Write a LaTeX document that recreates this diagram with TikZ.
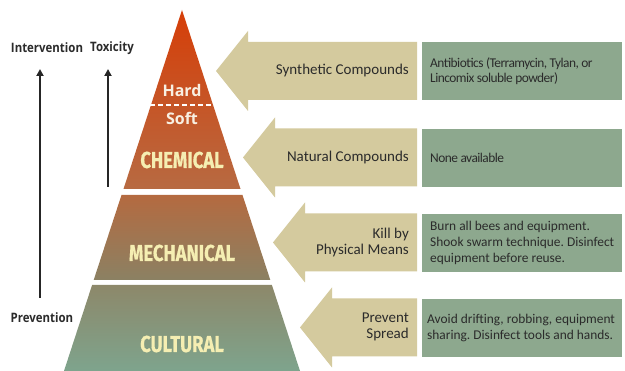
\documentclass[tikz,border=0pt]{standalone}
\usepackage{fontspec}
\setmainfont{Carlito}
\newfontfamily\labfont{Open Sans}
\newfontfamily\pyrfont{Fira Sans}
\usetikzlibrary{arrows.meta}
\definecolor{tanc}{HTML}{D4CA9E}
\definecolor{boxg}{HTML}{8DA88E}
\definecolor{txtd}{HTML}{2B2B2B}
\definecolor{cream}{HTML}{F5EEB2}
\definecolor{softw}{HTML}{F8F0E2}
\definecolor{arrk}{HTML}{262626}
\tikzset{
  gbox/.style={fill=boxg, draw=none, minimum width=200pt, minimum height=58pt,
    inner sep=0pt, anchor=north west},
  btext/.style={anchor=west, align=left, text=txtd, inner sep=0pt,
    font=\frenchspacing\fontsize{13.4}{15.8}\selectfont},
  tight/.style={font=\frenchspacing\fontsize{13.4}{15.4}\selectfont\addfontfeature{LetterSpace=-4}},
  atext/.style={anchor=east, align=right, text=txtd, inner sep=0pt,
    font=\fontsize{15}{16}\selectfont},
  sidelab/.style={text=txtd, inner sep=0pt, font=\labfont\bfseries\fontsize{13}{14}\selectfont},
  pyrlab/.style={text=cream, inner sep=0pt, font=\pyrfont\bfseries\fontsize{23}{24}\selectfont\addfontfeature{FakeBold=0.6}},
  hslab/.style={text=softw, inner sep=0pt, font=\labfont\bfseries\fontsize{16}{17}\selectfont},
  uparrow/.style={draw=arrk, line width=2.6pt, -{Triangle[length=7pt,width=7pt]}}
}
\begin{document}
\begin{tikzpicture}[x=1pt,y=-1pt]
\useasboundingbox (0,0) rectangle (625,371);
\fill[white] (0,0) rectangle (625,371);

% pyramid sections
\shade[top color={rgb,255:red,214;green,62;blue,8}, bottom color={rgb,255:red,183;green,106;blue,66}]
  (182,10) -- (240.5,189) -- (123.5,189) -- cycle;
\shade[top color={rgb,255:red,180;green,106;blue,64}, bottom color={rgb,255:red,139;green,129;blue,99}]
  (121.5,195) -- (242.5,195) -- (270.3,280) -- (93.7,280) -- cycle;
\shade[top color={rgb,255:red,141;green,136;blue,106}, bottom color={rgb,255:red,126;green,164;blue,141}]
  (92.1,285) -- (271.9,285) -- (300,371) -- (64,371) -- cycle;
\draw[white, line width=2.6pt, dash pattern=on 5pt off 3pt] (150,105) -- (214,105);

% pyramid labels
\node[hslab] (hard) at (182,91) {Hard};
\node[hslab] (soft) at (182,118) {Soft};
\node[pyrlab] (chem) at (182,160) {\scalebox{0.8}[1]{CHEMICAL}};
\node[pyrlab] (mech) at (182,253) {\scalebox{0.8}[1]{MECHANICAL}};
\node[pyrlab] (cult) at (182,344) {\scalebox{0.8}[1]{CULTURAL}};

% side labels and arrows
\node[sidelab] (interv) at (47,48) {\scalebox{0.88}[1]{Intervention}};
\node[sidelab] (toxic) at (112,48) {\scalebox{0.88}[1]{Toxicity}};
\node[sidelab] (prev) at (42,318) {\scalebox{0.88}[1]{Prevention}};
\coordinate (i0) at (40,298);
\coordinate (i1) at (40,69);
\coordinate (t0) at (108,187);
\coordinate (t1) at (108,69);
\draw[uparrow] (i0) -- (i1);
\draw[uparrow] (t0) -- (t1);

% tan arrows
\foreach \c/\tip in {71/216, 157.5/243, 242.5/273, 327.5/300}{
  \pgfmathsetmacro{\base}{\tip+32}
  \fill[tanc] (417,\c-29) -- (\base,\c-29) -- (\base,\c-40) -- (\tip,\c)
     -- (\base,\c+40) -- (\base,\c+29) -- (417,\c+29) -- cycle;
}

% arrow texts
\node[atext] (a1) at (409,71) {Synthetic Compounds};
\node[atext] (a2) at (409,158) {Natural Compounds};
\node[atext] (a3) at (409,242.5) {Kill by\\Physical Means};
\node[atext] (a4) at (409,327) {Prevent\\Spread};

% green boxes
\node[gbox] (b1) at (422,42) {};
\node[gbox] (b2) at (422,128.5) {};
\node[gbox] (b3) at (422,213.5) {};
\node[gbox] (b4) at (422,298.5) {};
\node[btext, tight] (t1) at ([xshift=8pt]b1.west) {Antibiotics (Terramycin, Tylan, or\\Lincomix soluble powder)};
\node[btext, tight] (t2) at ([xshift=8pt]b2.west) {None available};
\node[btext] (t3) at ([xshift=8pt]b3.west) {Burn all bees and equipment.\\Shook swarm technique. Disinfect\\equipment before reuse.};
\node[btext] (t4) at ([xshift=5pt]b4.west) {Avoid drifting, robbing, equipment\\sharing. Disinfect tools and hands.};
\end{tikzpicture}
\end{document}
